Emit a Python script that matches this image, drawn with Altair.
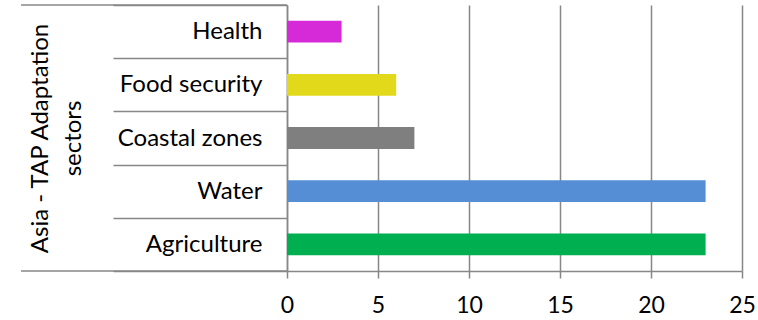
import altair as alt
import pandas as pd

categories = ["Health", "Food security", "Coastal zones", "Water", "Agriculture"]
values = [3, 6, 7, 23, 23]
colors = ["#D62AD8", "#E2D91A", "#7F7F7F", "#558ED5", "#00B050"]
x_ticks = [0, 5, 10, 15, 20, 25]
y_title = ["Asia - TAP Adaptation", "sectors"]

df = pd.DataFrame({"sector": categories, "count": values})

W, H = 455, 266
FONT = "Lato"
LINE = "#878787"
FS = 24

bars = alt.Chart(df).mark_bar(height=alt.RelativeBandSize(0.41)).encode(
    y=alt.Y(
        "sector:N",
        sort=categories,
        scale=alt.Scale(paddingInner=0, paddingOuter=0),
        axis=alt.Axis(
            title=y_title,
            tickBand="extent",
            tickSize=174,
            labelPadding=-149,
            labelFont=FONT,
            labelFontSize=FS,
            labelColor="#000000",
            titleFont=FONT,
            titleFontSize=FS,
            titleFontWeight="normal",
            titleColor="#000000",
            titleLineHeight=33,
            titleX=-247,
            titleY=H / 2,
            titleBaseline="middle",
            titleAlign="center",
            titleAngle=270,
            grid=False,
        ),
    ),
    x=alt.X(
        "count:Q",
        scale=alt.Scale(domain=[0, 25], nice=False),
        axis=alt.Axis(
            title=None,
            values=x_ticks,
            tickSize=7,
            labelPadding=16,
            labelFont=FONT,
            labelFontSize=23,
            labelColor="#000000",
            grid=True,
            labelFlush=False,
        ),
    ),
    color=alt.Color("sector:N", scale=alt.Scale(domain=categories, range=colors), legend=None),
)

one = pd.DataFrame({"b": [0]})
top_line = alt.Chart(one).mark_rule(color=LINE, strokeWidth=1.5).encode(
    x=alt.value(-266), x2=alt.value(0), y=alt.value(0)
)
bottom_line = alt.Chart(one).mark_rule(color=LINE, strokeWidth=1.5).encode(
    x=alt.value(-266), x2=alt.value(0), y=alt.value(H)
)

chart = alt.layer(top_line, bottom_line, bars).properties(
    width=W,
    height=H,
    autosize=alt.AutoSizeParams(type="none"),
    padding={"left": 287, "top": 5, "right": 16, "bottom": 49},
).configure_axis(
    domainColor=LINE,
    domainWidth=1.5,
    tickColor=LINE,
    tickWidth=1.5,
    gridColor=LINE,
    gridWidth=1.5,
    gridOpacity=1,
).configure_view(strokeWidth=0)

chart.save("out.html", embed_options={"renderer": "svg", "actions": False})
